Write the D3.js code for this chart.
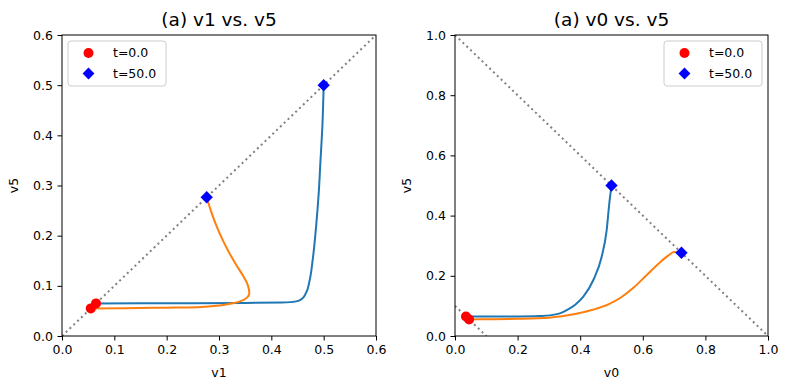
<!DOCTYPE html>
<html>
<head>
<meta charset="utf-8">
<script src="https://cdn.jsdelivr.net/npm/d3@7"></script>
<style>
  body { margin: 0; background: #fff; }
  svg { display: block; font-family: "DejaVu Sans", sans-serif; }
</style>
</head>
<body>
<svg id="chart" width="789" height="390"></svg>
<script>
// ---- data ----
const leftTitle = "(a) v1 vs. v5";
const rightTitle = "(a) v0 vs. v5";
const leftXTicks = [0, 0.1, 0.2, 0.3, 0.4, 0.5, 0.6];
const leftYTicks = [0, 0.1, 0.2, 0.3, 0.4, 0.5, 0.6];
const rightXTicks = [0, 0.2, 0.4, 0.6, 0.8, 1.0];
const rightYTicks = [0, 0.2, 0.4, 0.6, 0.8, 1.0];

// left panel: v1 vs v5
const leftBlueV1 = [0.065, 0.15, 0.25, 0.35, 0.42, 0.445, 0.457, 0.466, 0.473, 0.479, 0.4855, 0.4905, 0.494, 0.4975, 0.5];
const leftBlueV5 = [0.065, 0.0652, 0.0655, 0.066, 0.0668, 0.0685, 0.073, 0.085, 0.11, 0.1515, 0.218, 0.284, 0.351, 0.417, 0.5];
const leftOrangeV1 = [0.055, 0.12, 0.2, 0.241, 0.28, 0.305, 0.33, 0.345, 0.354, 0.358, 0.3555, 0.346, 0.334, 0.32, 0.301, 0.286, 0.2765];
const leftOrangeV5 = [0.055, 0.0555, 0.0565, 0.057, 0.059, 0.0615, 0.066, 0.071, 0.077, 0.085, 0.1, 0.12, 0.14, 0.165, 0.205, 0.245, 0.2765];
const leftStartV1 = [0.055, 0.065];
const leftStartV5 = [0.055, 0.065];
const leftEndV1 = [0.5, 0.2765];
const leftEndV5 = [0.5, 0.2765];

// right panel: v0 vs v5
const rightBlueV0 = [0.035, 0.1, 0.2, 0.27, 0.3035, 0.335, 0.357, 0.385, 0.41, 0.442, 0.4686, 0.4846, 0.493, 0.5];
const rightBlueV5 = [0.065, 0.0645, 0.065, 0.0665, 0.0685, 0.075, 0.086, 0.105, 0.1307, 0.186, 0.2635, 0.352, 0.441, 0.5];
const rightOrangeV0 = [0.045, 0.1, 0.2, 0.3, 0.38, 0.44, 0.49, 0.53, 0.57, 0.61, 0.65, 0.68, 0.70, 0.7235];
const rightOrangeV5 = [0.055, 0.0555, 0.057, 0.061, 0.072, 0.087, 0.105, 0.128, 0.16, 0.2, 0.24, 0.266, 0.279, 0.2765];
const rightStartV0 = [0.035, 0.045];
const rightStartV5 = [0.065, 0.055];
const rightEndV0 = [0.5, 0.7235];
const rightEndV5 = [0.5, 0.2765];

// reference lines
const leftDiagX = [0, 0.6];
const leftDiagY = [0, 0.6];
const rightSumX = [0, 1];
const rightSumY = [1, 0];
const rightSmallX = [0, 0.1];
const rightSmallY = [0.1, 0];

const legendLabels = ["t=0.0", "t=50.0"];
const seriesColors = ["#1f77b4", "#ff7f0e"];

// ---- drawing ----
const svg = d3.select("#chart");
const zip = (a, b) => a.map((v, i) => [v, b[i]]);

function panel(cfg) {
  const x = d3.scaleLinear().domain(cfg.xDomain).range([cfg.left, cfg.right]);
  const y = d3.scaleLinear().domain(cfg.yDomain).range([cfg.bottom, cfg.top]);
  const g = svg.append("g");
  const fmt = d3.format(".1f");

  const clipId = "clip" + cfg.id;
  svg.append("clipPath").attr("id", clipId).append("rect")
    .attr("x", cfg.left).attr("y", cfg.top)
    .attr("width", cfg.right - cfg.left).attr("height", cfg.bottom - cfg.top);
  const plot = g.append("g").attr("clip-path", `url(#${clipId})`);

  cfg.curves.forEach((c, i) => {
    const line = d3.line().x(d => x(d[0])).y(d => y(d[1])).curve(c[2]);
    plot.append("path").attr("d", line(zip(c[0], c[1])))
      .attr("fill", "none").attr("stroke", seriesColors[i]).attr("stroke-width", 2);
  });

  zip(cfg.start[0], cfg.start[1]).forEach(p => {
    g.append("circle").attr("cx", x(p[0])).attr("cy", y(p[1])).attr("r", 5).attr("fill", "red");
  });
  zip(cfg.end[0], cfg.end[1]).forEach(p => {
    g.append("path").attr("d", d3.symbol().type(d3.symbolSquare).size(76)())
      .attr("transform", `translate(${x(p[0])},${y(p[1])}) rotate(45)`).attr("fill", "blue");
  });

  const straight = d3.line().x(d => x(d[0])).y(d => y(d[1]));
  cfg.refs.forEach(r => {
    plot.append("path").attr("d", straight(zip(r[0], r[1])))
      .attr("fill", "none").attr("stroke", "gray").attr("stroke-width", 2)
      .attr("stroke-dasharray", "2,3.3");
  });

  // axes
  const xa = g.append("g").attr("transform", `translate(0,${cfg.bottom})`)
    .call(d3.axisBottom(x).tickValues(cfg.xTicks).tickFormat(fmt).tickSize(4.5).tickSizeOuter(0).tickPadding(4.5));
  const ya = g.append("g").attr("transform", `translate(${cfg.left},0)`)
    .call(d3.axisLeft(y).tickValues(cfg.yTicks).tickFormat(fmt).tickSize(4.5).tickSizeOuter(0).tickPadding(4.5));
  [xa, ya].forEach(a => {
    a.select(".domain").remove();
    a.selectAll("text").attr("font-size", 12.5).attr("fill", "#000").attr("font-family", "DejaVu Sans");
    a.selectAll("line").attr("stroke", "#000").attr("stroke-width", 1);
  });
  g.append("rect").attr("x", cfg.left).attr("y", cfg.top)
    .attr("width", cfg.right - cfg.left).attr("height", cfg.bottom - cfg.top)
    .attr("fill", "none").attr("stroke", "#000").attr("stroke-width", 1);

  g.append("text").attr("x", (cfg.left + cfg.right) / 2).attr("y", 26)
    .attr("text-anchor", "middle").attr("font-size", 18.5).text(cfg.title);
  g.append("text").attr("x", (cfg.left + cfg.right) / 2).attr("y", 377)
    .attr("text-anchor", "middle").attr("font-size", 12.5).text(cfg.xLabel);
  g.append("text").attr("transform", `translate(${cfg.left - 44},${(cfg.top + cfg.bottom) / 2}) rotate(-90)`)
    .attr("text-anchor", "middle").attr("font-size", 12.5).text(cfg.yLabel);

  // legend
  const lg = g.append("g").attr("transform", `translate(${cfg.legendX},${cfg.legendY})`);
  lg.append("rect").attr("x", 0).attr("y", 0).attr("width", 98).attr("height", 45)
    .attr("rx", 3).attr("fill", "white").attr("fill-opacity", 0.8)
    .attr("stroke", "#cccccc").attr("stroke-width", 1);
  lg.append("circle").attr("cx", 20.5).attr("cy", 12).attr("r", 5).attr("fill", "red");
  lg.append("path").attr("d", d3.symbol().type(d3.symbolSquare).size(70)())
    .attr("transform", `translate(20.5,32.5) rotate(45)`).attr("fill", "blue");
  legendLabels.forEach((t, i) => {
    lg.append("text").attr("x", 45).attr("y", 12 + i * 20.5).attr("dy", "0.35em")
      .attr("font-size", 12.5).text(t);
  });
}

panel({
  id: "L", left: 62, right: 376, top: 35, bottom: 336,
  xDomain: [0, 0.6], yDomain: [0, 0.6], xTicks: leftXTicks, yTicks: leftYTicks,
  title: leftTitle, xLabel: "v1", yLabel: "v5",
  curves: [[leftBlueV1, leftBlueV5, d3.curveMonotoneY], [leftOrangeV1, leftOrangeV5, d3.curveMonotoneY]],
  start: [leftStartV1, leftStartV5], end: [leftEndV1, leftEndV5],
  refs: [[leftDiagX, leftDiagY]],
  legendX: 68, legendY: 41
});

panel({
  id: "R", left: 455, right: 768, top: 35, bottom: 336,
  xDomain: [0, 1], yDomain: [0, 1], xTicks: rightXTicks, yTicks: rightYTicks,
  title: rightTitle, xLabel: "v0", yLabel: "v5",
  curves: [[rightBlueV0, rightBlueV5, d3.curveMonotoneX], [rightOrangeV0, rightOrangeV5, d3.curveMonotoneX]],
  start: [rightStartV0, rightStartV5], end: [rightEndV0, rightEndV5],
  refs: [[rightSumX, rightSumY], [rightSmallX, rightSmallY]],
  legendX: 664, legendY: 41
});
</script>
</body>
</html>
